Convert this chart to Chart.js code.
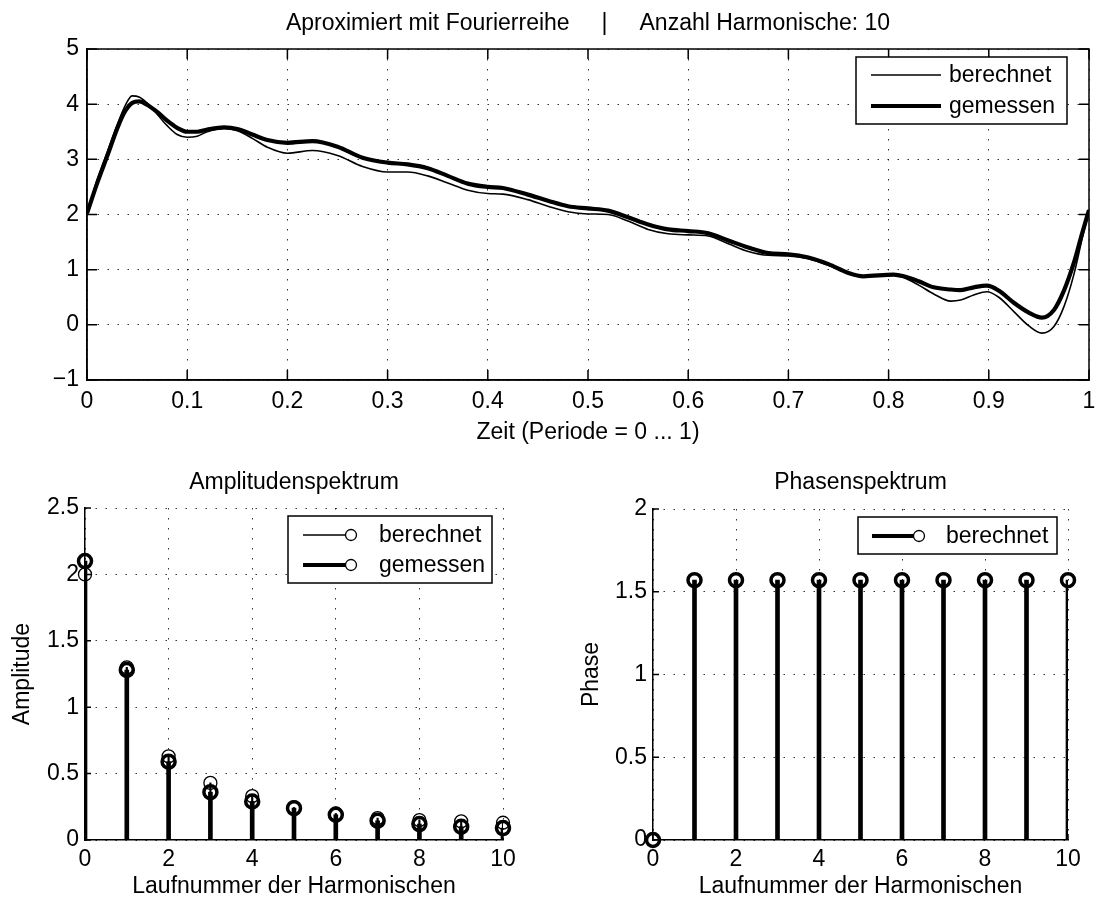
<!DOCTYPE html>
<html>
<head>
<meta charset="utf-8">
<script src="https://cdn.jsdelivr.net/npm/chart.js@4.4.1/dist/chart.umd.min.js"></script>
<style>
  html, body { margin: 0; padding: 0; background: #fff; }
  #wrap { position: relative; width: 1105px; height: 902px; }
  .panel { position: absolute; }
</style>
</head>
<body>
<div id="wrap">
  <div class="panel" style="left:0;top:0;width:1105px;height:455px"><canvas id="signalChart"></canvas></div>
  <div class="panel" style="left:0;top:455px;width:540px;height:447px"><canvas id="ampChart"></canvas></div>
  <div class="panel" style="left:540px;top:455px;width:565px;height:447px"><canvas id="phaseChart"></canvas></div>
</div>
<script>
// Zeitachse (Periode 0 ... 1) und die beiden Kurven
const zeit = [0, 0.01, 0.02, 0.03, 0.037, 0.045, 0.052, 0.06, 0.07, 0.08, 0.09, 0.1, 0.11, 0.12, 0.137, 0.15, 0.165, 0.18, 0.2, 0.225, 0.25, 0.275, 0.3, 0.32, 0.34, 0.36, 0.38, 0.4, 0.415, 0.44, 0.46, 0.48, 0.5, 0.52, 0.54, 0.56, 0.58, 0.6, 0.62, 0.64, 0.66, 0.68, 0.7, 0.72, 0.74, 0.76, 0.775, 0.805, 0.815, 0.83, 0.845, 0.862, 0.872, 0.885, 0.898, 0.91, 0.925, 0.94, 0.953, 0.965, 0.975, 0.985, 0.993, 1];
const berechnet = [2.02, 2.62, 3.12, 3.62, 3.93, 4.15, 4.13, 4.02, 3.82, 3.61, 3.45, 3.40, 3.42, 3.50, 3.56, 3.52, 3.38, 3.22, 3.11, 3.16, 3.07, 2.87, 2.77, 2.77, 2.70, 2.57, 2.44, 2.38, 2.37, 2.27, 2.15, 2.05, 2.01, 2.00, 1.88, 1.73, 1.65, 1.63, 1.61, 1.47, 1.33, 1.26, 1.25, 1.20, 1.08, 0.93, 0.87, 0.90, 0.86, 0.72, 0.56, 0.43, 0.45, 0.54, 0.60, 0.50, 0.24, -0.02, -0.15, -0.03, 0.33, 0.92, 1.55, 2.08];
const gemessen = [2.02, 2.56, 3.05, 3.55, 3.84, 4.02, 4.05, 3.99, 3.86, 3.70, 3.57, 3.50, 3.50, 3.54, 3.58, 3.55, 3.45, 3.35, 3.30, 3.33, 3.23, 3.03, 2.94, 2.91, 2.84, 2.70, 2.56, 2.50, 2.48, 2.36, 2.25, 2.15, 2.11, 2.07, 1.95, 1.82, 1.73, 1.70, 1.66, 1.53, 1.40, 1.30, 1.28, 1.22, 1.10, 0.94, 0.88, 0.91, 0.88, 0.79, 0.68, 0.64, 0.63, 0.68, 0.71, 0.62, 0.40, 0.22, 0.13, 0.27, 0.62, 1.13, 1.65, 2.08];

// Spektren
const harmonische = [0, 1, 2, 3, 4, 5, 6, 7, 8, 9, 10];
const amplitudeBerechnet = [2.0, 1.30, 0.63, 0.43, 0.33, 0.245, 0.20, 0.165, 0.15, 0.14, 0.13];
const amplitudeGemessen = [2.1, 1.28, 0.59, 0.36, 0.29, 0.24, 0.19, 0.145, 0.12, 0.10, 0.09];
const phaseBerechnet = [0, 1.57, 1.57, 1.57, 1.57, 1.57, 1.57, 1.57, 1.57, 1.57, 1.57];

const FONT = '"Liberation Sans", Arial, Helvetica, sans-serif';
const FS = 23;

Chart.defaults.font.family = FONT;
Chart.defaults.font.size = FS;
Chart.defaults.color = '#000';

function toPoints(xs, ys) {
    return xs.map((x, i) => ({ x: x, y: ys[i] }));
}

// Titel mittig ueber der Zeichenflaeche
const flaechenTitel = {
    id: 'flaechenTitel',
    afterDraw(chart, args, o) {
        if (!o.text) return;
        const { ctx, chartArea: a } = chart;
        ctx.save();
        ctx.fillStyle = '#000';
        ctx.font = FS + 'px ' + FONT;
        ctx.textAlign = 'center';
        ctx.textBaseline = 'alphabetic';
        ctx.fillText(o.text, (a.left + a.right) / 2, o.baseline);
        ctx.restore();
    }
};

// Rahmen und Skalenstriche nach innen (wie MATLAB)
const achsenRahmen = {
    id: 'achsenRahmen',
    afterDatasetsDraw(chart, args, opts) {
        const { ctx, chartArea: a, scales } = chart;
        const len = opts.tickLen || 0;
        ctx.save();
        ctx.strokeStyle = '#000';
        ctx.lineWidth = 1.5;
        if (opts.box) {
            ctx.strokeRect(a.left, a.top, a.right - a.left, a.bottom - a.top);
        }
        ctx.beginPath();
        scales.x.ticks.forEach(t => {
            const px = scales.x.getPixelForValue(t.value);
            ctx.moveTo(px, a.bottom); ctx.lineTo(px, a.bottom - len);
            if (opts.box) { ctx.moveTo(px, a.top); ctx.lineTo(px, a.top + len); }
        });
        scales.y.ticks.forEach(t => {
            const py = scales.y.getPixelForValue(t.value);
            ctx.moveTo(a.left, py); ctx.lineTo(a.left + len, py);
            if (opts.box) { ctx.moveTo(a.right, py); ctx.lineTo(a.right - len, py); }
        });
        ctx.stroke();
        ctx.restore();
    }
};

// Legende im Kasten oben rechts
const kastenLegende = {
    id: 'kastenLegende',
    afterDraw(chart, args, o) {
        if (!o.items) return;
        const { ctx, chartArea: a } = chart;
        const x0 = a.right - o.right - o.width;
        const y0 = a.top + o.top;
        ctx.save();
        ctx.fillStyle = '#fff';
        ctx.fillRect(x0, y0, o.width, o.height);
        ctx.strokeStyle = '#000';
        ctx.lineWidth = 1.5;
        ctx.strokeRect(x0, y0, o.width, o.height);
        o.items.forEach((it, i) => {
            const cy = y0 + o.rowTop + i * o.rowGap;
            ctx.lineWidth = it.lineWidth;
            ctx.beginPath();
            ctx.moveTo(x0 + o.lineX0, cy);
            ctx.lineTo(x0 + o.lineX1, cy);
            ctx.stroke();
            if (o.marker) {
                ctx.lineWidth = 1.3;
                ctx.beginPath();
                ctx.arc(x0 + o.lineX1, cy, o.marker, 0, 2 * Math.PI);
                ctx.fillStyle = '#fff';
                ctx.fill();
                ctx.stroke();
            }
            ctx.fillStyle = '#000';
            ctx.font = FS + 'px ' + FONT;
            ctx.textBaseline = 'middle';
            ctx.fillText(it.text, x0 + o.textX, cy + 1);
        });
        ctx.restore();
    }
};

Chart.register(flaechenTitel, achsenRahmen, kastenLegende);

const gridOpts = { color: 'rgba(0,0,0,0.8)', lineWidth: 1, drawTicks: false };
const borderOpts = { color: '#000', width: 1.5, dash: [1.5, 8.5] };

function tickText(v) {
    return String(Math.round(v * 100) / 100).replace('-', '\u2212');
}

// ---------- oberes Diagramm ----------
new Chart(document.getElementById('signalChart'), {
    type: 'line',
    data: {
        datasets: [
            {
                label: 'gemessen',
                data: toPoints(zeit, gemessen),
                borderColor: '#000',
                borderWidth: 4.2,
                pointRadius: 0,
                cubicInterpolationMode: 'monotone',
                order: 0
            },
            {
                label: 'berechnet',
                data: toPoints(zeit, berechnet),
                borderColor: '#000',
                borderWidth: 1.6,
                pointRadius: 0,
                cubicInterpolationMode: 'monotone',
                order: 1
            }
        ]
    },
    options: {
        responsive: true,
        maintainAspectRatio: false,
        animation: false,
        devicePixelRatio: 1,
        layout: { padding: { left: 0, right: 16, top: 49, bottom: 0 } },
        scales: {
            x: {
                type: 'linear',
                min: 0, max: 1,
                ticks: { stepSize: 0.1, padding: 8, autoSkip: false, maxRotation: 0, callback: tickText },
                grid: gridOpts,
                border: borderOpts,
                title: { display: true, text: 'Zeit (Periode = 0 ... 1)', padding: { top: 0, bottom: 8.2 } },
                afterFit(s) { s.height = 75; }
            },
            y: {
                type: 'linear',
                min: -1, max: 5,
                ticks: { stepSize: 1, padding: 8, callback: tickText },
                grid: gridOpts,
                border: borderOpts,
                afterFit(s) { s.width = 87; }
            }
        },
        plugins: {
            legend: { display: false },
            tooltip: { enabled: false },
            title: { display: false },
            flaechenTitel: {
                text: 'Aproximiert mit Fourierreihe     |     Anzahl Harmonische: 10',
                baseline: 30
            },
            achsenRahmen: { box: true, tickLen: 10 },
            kastenLegende: {
                right: 22, top: 8, width: 211, height: 67,
                rowTop: 18, rowGap: 31, lineX0: 15, lineX1: 85, textX: 93, marker: 0,
                items: [
                    { text: 'berechnet', lineWidth: 1.6 },
                    { text: 'gemessen', lineWidth: 4.2 }
                ]
            }
        }
    }
});

// ---------- Stem-Hilfen ----------
function stemBars(label, ys, width, order) {
    return {
        type: 'bar',
        label: label,
        data: toPoints(harmonische, ys),
        backgroundColor: '#000',
        borderWidth: 0,
        barThickness: width,
        grouped: false,
        order: order
    };
}
function stemHeads(label, ys, radius, width, order) {
    return {
        type: 'scatter',
        label: label,
        data: toPoints(harmonische, ys),
        pointRadius: radius,
        pointBorderWidth: width,
        pointBorderColor: '#000',
        pointBackgroundColor: 'rgba(0,0,0,0)',
        showLine: false,
        clip: false,
        order: order
    };
}

function spectrumOptions(titleText, yLabel, yMax, yLabelPad, yWidth, topPad, rightPad, legend) {
    return {
        responsive: true,
        maintainAspectRatio: false,
        animation: false,
        devicePixelRatio: 1,
        layout: { padding: { left: 0, right: rightPad, top: topPad, bottom: 0 } },
        scales: {
            x: {
                type: 'linear',
                min: 0, max: 10,
                offset: false,
                ticks: { stepSize: 2, padding: 6, autoSkip: false, maxRotation: 0, callback: tickText },
                grid: Object.assign({}, gridOpts, { offset: false }),
                border: borderOpts,
                title: { display: true, text: 'Laufnummer der Harmonischen', padding: { top: 0, bottom: 1.2 } },
                afterFit(s) { s.height = 62; }
            },
            y: {
                type: 'linear',
                min: 0, max: yMax,
                ticks: { stepSize: 0.5, padding: 6, callback: tickText },
                grid: gridOpts,
                border: borderOpts,
                title: { display: true, text: yLabel, padding: { top: yLabelPad, bottom: 0 } },
                afterFit(s) { s.width = yWidth; }
            }
        },
        plugins: {
            legend: { display: false },
            tooltip: { enabled: false },
            title: { display: false },
            flaechenTitel: { text: titleText, baseline: 34 },
            achsenRahmen: { box: false, tickLen: 6 },
            kastenLegende: legend
        }
    };
}

// ---------- Amplitudenspektrum ----------
new Chart(document.getElementById('ampChart'), {
    type: 'scatter',
    data: {
        datasets: [
            stemHeads('gemessen', amplitudeGemessen, 6.5, 3.5, 0),
            stemBars('gemessen', amplitudeGemessen, 4, 1),
            stemHeads('berechnet', amplitudeBerechnet, 6.5, 1.3, 2),
            stemBars('berechnet', amplitudeBerechnet, 1.5, 3)
        ]
    },
    options: spectrumOptions('Amplitudenspektrum', 'Amplitude', 2.5, 9.2, 85, 53, 37, {
        right: 11, top: 8, width: 204, height: 67,
        rowTop: 19, rowGap: 30, lineX0: 15, lineX1: 63, textX: 91, marker: 5.5,
        items: [
            { text: 'berechnet', lineWidth: 1.6 },
            { text: 'gemessen', lineWidth: 4 }
        ]
    })
});

// ---------- Phasenspektrum ----------
new Chart(document.getElementById('phaseChart'), {
    type: 'scatter',
    data: {
        datasets: [
            stemHeads('berechnet', phaseBerechnet, 6.5, 3.5, 0),
            stemBars('berechnet', phaseBerechnet, 4, 1)
        ]
    },
    options: spectrumOptions('Phasenspektrum', 'Phase', 2, 37.9, 113, 54, 37, {
        right: 11, top: 8, width: 199, height: 37,
        rowTop: 19, rowGap: 30, lineX0: 14, lineX1: 61, textX: 88, marker: 5.5,
        items: [
            { text: 'berechnet', lineWidth: 4 }
        ]
    })
});
</script>
</body>
</html>
